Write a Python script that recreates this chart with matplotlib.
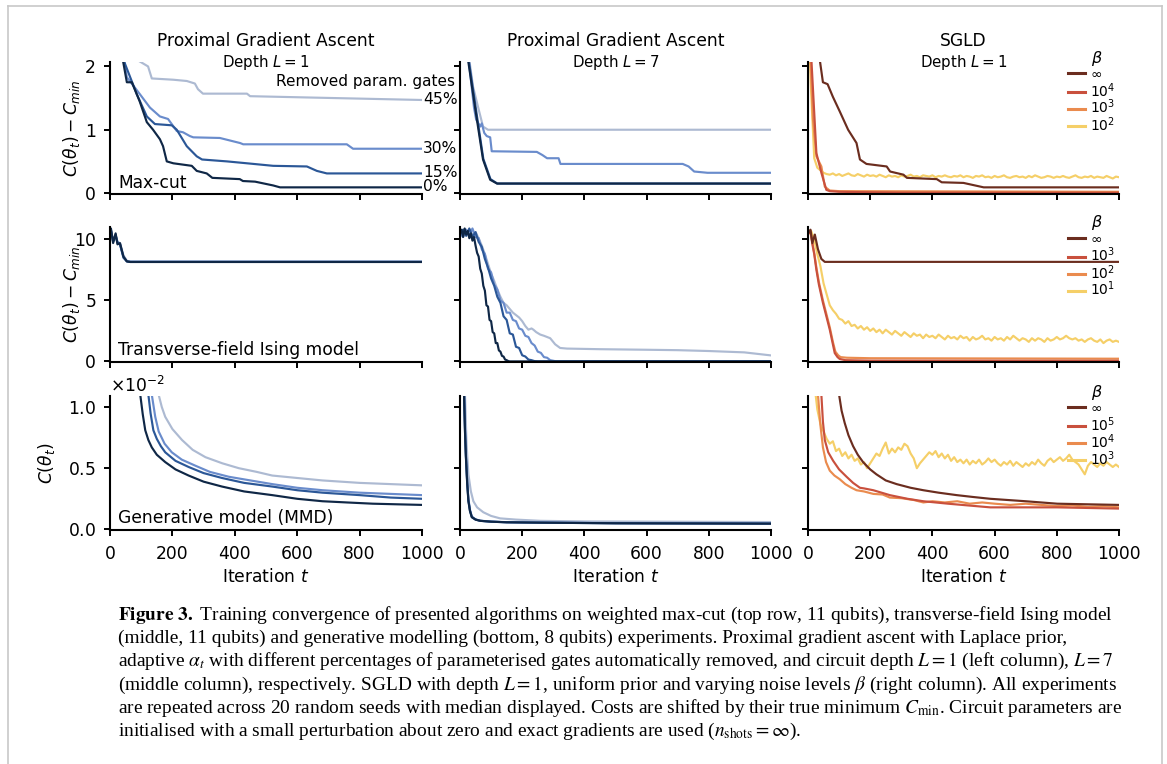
import numpy as np
import matplotlib
matplotlib.use("Agg")
import matplotlib.pyplot as plt
from matplotlib.lines import Line2D
from matplotlib.ticker import MultipleLocator, ScalarFormatter

W, H = 1167, 764

# ---------------- data ----------------
iters_ticks = [0, 200, 400, 600, 800, 1000]
pct_labels = ["0%", "15%", "30%", "45%"]
blues = ["#0f2746", "#2b5797", "#6a8ccc", "#adbad2"]
beta_colors = ["#6b2d1f", "#c9503d", "#ea8b4e", "#f5cf68"]

# Row 1: Max-cut, PGA depth 1
mc1_t = [
    [0, 20, 42, 54, 70, 95, 118, 138, 160, 170, 182, 203, 262, 278, 310, 328, 416, 426, 465, 523, 545, 1000],
    [0, 25, 45, 86, 118, 144, 198, 214, 246, 278, 295, 375, 439, 523, 631, 663, 695, 1000],
    [0, 25, 45, 54, 96, 128, 160, 186, 214, 234, 256, 267, 352, 417, 427, 759, 779, 1000],
    [0, 40, 88, 122, 134, 203, 246, 272, 282, 298, 439, 449, 631, 1000],
]
mc1_v = [
    [6.0, 3.0, 2.08, 1.75, 1.75, 1.45, 1.12, 1.0, 0.85, 0.74, 0.5, 0.47, 0.43, 0.35, 0.31, 0.24, 0.22, 0.19, 0.18, 0.12, 0.09, 0.09],
    [6.0, 3.0, 2.08, 1.56, 1.21, 1.09, 1.07, 1.0, 0.74, 0.58, 0.53, 0.5, 0.47, 0.43, 0.42, 0.35, 0.31, 0.31],
    [6.0, 3.0, 2.1, 1.83, 1.56, 1.35, 1.21, 1.17, 0.98, 0.96, 0.90, 0.88, 0.87, 0.79, 0.77, 0.77, 0.70, 0.70],
    [6.0, 3.5, 2.1, 2.0, 1.81, 1.79, 1.77, 1.73, 1.64, 1.57, 1.57, 1.53, 1.51, 1.47],
]
pct_label_y = [0.11, 0.33, 0.71, 1.48]

# Row 1: Max-cut, PGA depth 7
mc7_t = [
    [0, 15, 26, 50, 74, 97, 119, 1000],
    [0, 16, 28, 52, 75, 98, 120, 1000],
    [0, 15, 28, 45, 52, 65, 70, 78, 86, 97, 102, 247, 265, 280, 317, 323, 716, 735, 753, 796, 1000],
    [0, 15, 30, 42, 58, 74, 90, 1000],
]
mc7_v = [
    [6.0, 3.2, 2.1, 1.3, 0.53, 0.21, 0.15, 0.15],
    [6.0, 3.2, 2.1, 1.3, 0.54, 0.22, 0.15, 0.15],
    [6.0, 3.3, 2.1, 1.35, 1.16, 1.05, 1.1, 0.95, 0.9, 0.88, 0.66, 0.65, 0.6, 0.55, 0.55, 0.46, 0.46, 0.42, 0.34, 0.32, 0.32],
    [6.0, 3.4, 2.1, 1.68, 1.36, 1.05, 1.0, 1.0],
]

# Row 1: Max-cut, SGLD
mcs_labels = [r"$\infty$", r"$10^4$", r"$10^3$", r"$10^2$"]
mcs_inf_t = [0, 20, 38, 48, 63, 80, 102, 129, 156, 167, 188, 253, 264, 307, 318, 414, 430, 500, 565, 1000]
mcs_inf_v = [6, 3.2, 2.1, 1.75, 1.72, 1.52, 1.29, 1.0, 0.79, 0.53, 0.46, 0.42, 0.34, 0.29, 0.24, 0.22, 0.17, 0.16, 0.09, 0.09]
mcs_b4_t = [0, 11, 27, 43, 59, 70, 100, 200, 300, 1000]
mcs_b4_v = [6, 2.1, 0.63, 0.32, 0.05, 0.03, 0.02, 0.012, 0.006, 0.005]
mcs_b3_t = [0, 8, 16, 27, 43, 54, 70, 100, 1000]
mcs_b3_v = [6, 2.1, 1.16, 0.58, 0.42, 0.1, 0.04, 0.03, 0.02]
mcs_b2_v = [3.0, 1.6, 0.55, 0.40, 0.36, 0.32, 0.30, 0.29, 0.31, 0.28, 0.30, 0.27, 0.29, 0.31, 0.28, 0.27,
            0.30, 0.28, 0.26, 0.29, 0.27, 0.28, 0.26, 0.29, 0.27, 0.25, 0.28, 0.26, 0.27, 0.25, 0.28, 0.26,
            0.27, 0.29, 0.26, 0.27, 0.25, 0.28, 0.27, 0.26, 0.28, 0.25, 0.27, 0.26, 0.28, 0.26, 0.25, 0.27,
            0.26, 0.28, 0.25, 0.27, 0.26, 0.24, 0.27, 0.26, 0.28, 0.25, 0.26, 0.24, 0.27, 0.25, 0.26, 0.28,
            0.25, 0.24, 0.26, 0.27, 0.25, 0.26, 0.24, 0.27, 0.25, 0.28, 0.26, 0.24, 0.25, 0.27, 0.26, 0.24,
            0.26, 0.25, 0.27, 0.25, 0.24, 0.26, 0.28, 0.25, 0.24, 0.26, 0.25, 0.27, 0.24, 0.26, 0.25, 0.24,
            0.27, 0.25, 0.23, 0.26, 0.25]

# Row 2: TFIM, PGA depth 1
tf1_t = [0, 3, 10, 18, 24, 32, 43, 54, 65, 1000]
tf1_v = [
    [10.3, 10.9, 9.7, 10.5, 9.6, 9.7, 8.6, 8.2, 8.15, 8.15],
    [10.4, 10.8, 9.8, 10.4, 9.7, 9.6, 8.5, 8.2, 8.16, 8.16],
    [10.5, 10.7, 9.9, 10.3, 9.8, 9.6, 8.6, 8.2, 8.17, 8.17],
    [10.4, 10.6, 10.0, 10.2, 9.8, 9.7, 8.7, 8.25, 8.18, 8.18],
]

# Row 2: TFIM, PGA depth 7
tf7_t = [
    [0, 5, 10, 15, 20, 25, 30, 35, 40, 45, 50, 55, 60, 65, 70, 75, 80, 85, 90, 95, 100, 105, 110, 115, 120,
     125, 130, 135, 140, 145, 150, 155, 160, 1000],
    [0, 10, 20, 30, 40, 50, 60, 70, 80, 90, 100, 110, 120, 130, 140, 150, 160, 170, 180, 190, 200, 210, 220,
     230, 240, 250, 1000],
    [0, 10, 20, 30, 40, 50, 60, 70, 80, 90, 100, 110, 120, 130, 140, 150, 160, 170, 180, 190, 200, 210, 220,
     230, 240, 250, 260, 270, 280, 290, 300, 310, 1000],
    [0, 10, 20, 30, 40, 50, 60, 70, 80, 90, 100, 110, 120, 130, 140, 150, 160, 170, 180, 190, 200, 210, 220,
     230, 236, 245, 258, 270, 290, 306, 322, 344, 450, 581, 700, 800, 914, 1000],
]
tf7_v = [
    [10.5, 10.8, 10.2, 10.9, 10.4, 10.7, 10.1, 10.5, 9.9, 10.2, 9.5, 8.9, 8.6, 7.6, 7.2, 6.2, 5.8, 4.6, 4.5,
     3.4, 3.3, 2.4, 2.3, 1.5, 1.5, 0.9, 0.8, 0.45, 0.4, 0.15, 0.1, 0.03, 0.0, 0.0],
    [10.4, 10.8, 10.3, 10.9, 10.2, 10.6, 9.8, 9.4, 8.4, 7.7, 6.8, 6.2, 5.3, 4.8, 3.7, 3.4, 2.3, 2.2, 1.2,
     1.1, 0.5, 0.4, 0.15, 0.1, 0.02, 0.0, 0.0],
    [10.5, 10.2, 10.8, 10.3, 10.9, 10.2, 10.1, 9.2, 8.8, 7.6, 7.3, 6.3, 5.9, 5.0, 4.8, 4.0, 4.0, 3.4, 3.3,
     2.7, 2.6, 2.1, 2.0, 1.5, 1.3, 0.8, 0.7, 0.35, 0.3, 0.1, 0.05, 0.0, 0.0],
    [10.4, 10.7, 10.3, 10.8, 10.4, 10.6, 10.1, 9.5, 8.8, 8.0, 7.2, 6.6, 5.9, 5.3, 4.8, 4.6, 4.3, 4.0, 3.8,
     3.6, 3.3, 2.9, 2.6, 2.7, 2.6, 2.4, 2.2, 2.1, 1.9, 1.4, 1.1, 1.05, 1.0, 0.96, 0.92, 0.85, 0.74, 0.49],
]

# Row 2: TFIM, SGLD
tfs_labels = [r"$\infty$", r"$10^3$", r"$10^2$", r"$10^1$"]
tfs_inf_t = [0, 8, 14, 22, 32, 43, 54, 1000]
tfs_inf_v = [10.5, 10.8, 9.7, 10.4, 9.2, 8.4, 8.16, 8.16]
tfs_b3_t = [0, 8, 14, 20, 27, 35, 48, 60, 70, 80, 86, 95, 102, 120, 200, 1000]
tfs_b3_v = [10.5, 10.6, 9.6, 8.8, 7.5, 6.3, 4.8, 3.6, 2.6, 1.4, 0.68, 0.35, 0.2, 0.1, 0.06, 0.05]
tfs_b2_t = [0, 8, 14, 20, 27, 35, 48, 60, 70, 80, 88, 97, 105, 125, 200, 1000]
tfs_b2_v = [10.4, 10.7, 9.8, 8.9, 7.7, 6.5, 5.0, 3.8, 2.8, 1.6, 0.8, 0.5, 0.35, 0.3, 0.26, 0.22]
tfs_b1_v = [10.5, 10.7, 10.0, 8.8, 7.8, 6.4, 5.5, 4.6, 4.2, 3.9, 3.5, 3.4, 3.1, 3.3, 2.9, 3.0, 2.7, 2.9,
            2.6, 2.8, 2.5, 2.7, 2.4, 2.6, 2.3, 2.6, 2.4, 2.2, 2.5, 2.3, 2.1, 2.4, 2.2, 2.0, 2.3, 2.1, 2.2,
            1.9, 2.2, 2.0, 2.1, 1.9, 2.2, 2.0, 1.8, 2.1, 1.9, 2.0, 1.8, 2.1, 1.9, 2.0, 1.7, 2.0, 1.8, 1.9,
            2.1, 1.8, 1.9, 1.7, 2.0, 1.8, 1.9, 1.7, 2.0, 1.8, 2.1, 1.9, 1.7, 1.9, 1.8, 1.6, 1.9, 1.7, 1.9,
            1.8, 1.6, 1.9, 1.7, 1.8, 2.0, 1.8, 1.9, 2.1, 1.9, 1.8, 1.9, 1.7, 1.8, 1.6, 1.8, 1.9, 1.7, 1.6,
            1.8, 1.5, 1.7, 1.8, 1.6, 1.7, 1.6]

# Row 3: generative model (values in units of 1e-2)
SCALE = 1e-2
gen1_t = [
    [0, 60, 80, 97, 105, 113, 123, 134, 150, 177, 210, 252, 300, 359, 430, 520, 600, 681, 760, 842, 920, 1000],
    [0, 70, 100, 123, 130, 139, 150, 163, 177, 210, 252, 300, 359, 430, 520, 600, 681, 800, 900, 1000],
    [0, 80, 110, 134, 145, 156, 175, 198, 230, 274, 320, 381, 450, 520, 600, 681, 800, 900, 1000],
    [0, 100, 130, 156, 166, 177, 200, 231, 265, 306, 360, 413, 470, 520, 600, 681, 800, 900, 1000],
]
gen1_v = [
    [5.0, 2.2, 1.5, 1.10, 0.94, 0.81, 0.73, 0.67, 0.61, 0.55, 0.49, 0.44, 0.39, 0.35, 0.31, 0.28, 0.25, 0.23,
     0.22, 0.21, 0.205, 0.20],
    [5.0, 2.2, 1.5, 1.10, 0.95, 0.81, 0.74, 0.68, 0.63, 0.56, 0.51, 0.46, 0.42, 0.38, 0.35, 0.32, 0.30, 0.28,
     0.26, 0.25],
    [5.0, 2.2, 1.5, 1.10, 0.92, 0.80, 0.70, 0.63, 0.57, 0.52, 0.47, 0.43, 0.40, 0.37, 0.34, 0.32, 0.30, 0.29,
     0.28],
    [5.0, 2.2, 1.5, 1.10, 1.0, 0.92, 0.82, 0.73, 0.65, 0.59, 0.54, 0.50, 0.47, 0.44, 0.42, 0.40, 0.38, 0.37,
     0.36],
]
gen7_t = [
    [0, 8, 13, 16, 19, 23, 27, 32, 38, 50, 65, 100, 150, 258, 500, 1000],
    [0, 8, 13, 16, 19, 23, 27, 32, 38, 50, 65, 100, 150, 258, 500, 1000],
    [0, 8, 13, 16, 19, 23, 27, 32, 38, 50, 65, 100, 150, 258, 500, 1000],
    [0, 10, 16, 21, 27, 35, 43, 55, 75, 100, 129, 180, 258, 400, 1000],
]
gen7_v = [
    [6.0, 2.0, 1.1, 0.8, 0.59, 0.38, 0.23, 0.15, 0.10, 0.08, 0.07, 0.063, 0.058, 0.055, 0.05, 0.047],
    [6.0, 2.0, 1.12, 0.82, 0.6, 0.39, 0.24, 0.155, 0.10, 0.08, 0.07, 0.063, 0.058, 0.055, 0.05, 0.047],
    [6.0, 2.0, 1.14, 0.84, 0.61, 0.4, 0.25, 0.16, 0.105, 0.082, 0.071, 0.064, 0.059, 0.056, 0.051, 0.048],
    [6.0, 2.0, 1.1, 0.7, 0.45, 0.31, 0.23, 0.18, 0.14, 0.11, 0.09, 0.08, 0.07, 0.065, 0.06],
]
gens_labels = [r"$\infty$", r"$10^5$", r"$10^4$", r"$10^3$"]
gens_inf_t = [0, 60, 100, 108, 118, 130, 145, 160, 177, 200, 220, 250, 285, 330, 371, 420, 478, 530, 586, 700, 801, 900, 1000]
gens_inf_v = [6.0, 2.2, 1.10, 0.97, 0.87, 0.77, 0.68, 0.61, 0.55, 0.49, 0.45, 0.40, 0.37, 0.34, 0.32, 0.30, 0.28,
              0.265, 0.25, 0.23, 0.21, 0.205, 0.20]
gens_b5_t = [0, 30, 43, 48, 54, 65, 81, 100, 124, 145, 167, 180, 210, 263, 320, 371, 450, 586, 700, 801, 1000]
gens_b5_v = [6.0, 2.0, 1.10, 0.88, 0.73, 0.63, 0.56, 0.49, 0.43, 0.38, 0.34, 0.335, 0.32, 0.28, 0.25, 0.23, 0.21,
             0.18, 0.18, 0.18, 0.17]
gens_b4_t = [0, 20, 32, 40, 48, 58, 70, 85, 102, 120, 140, 156, 180, 210, 240, 263, 300, 340, 371, 400, 440, 480,
             520, 560, 600, 650, 700, 750, 800, 850, 900, 950, 1000]
gens_b4_v = [6.0, 2.0, 1.10, 0.85, 0.67, 0.55, 0.48, 0.44, 0.41, 0.37, 0.34, 0.32, 0.31, 0.29, 0.285, 0.26, 0.255,
             0.24, 0.22, 0.23, 0.22, 0.23, 0.21, 0.22, 0.21, 0.20, 0.21, 0.20, 0.19, 0.195, 0.185, 0.19, 0.18]
gens_b3_v = [6.0, 2.5, 1.2, 0.98, 0.86, 0.80, 0.74, 0.70, 0.72, 0.64, 0.66, 0.60, 0.63, 0.58, 0.61, 0.56, 0.58,
             0.53, 0.55, 0.50, 0.54, 0.58, 0.62, 0.60, 0.66, 0.71, 0.62, 0.66, 0.63, 0.67, 0.65, 0.70, 0.68,
             0.62, 0.58, 0.50, 0.54, 0.57, 0.60, 0.63, 0.61, 0.64, 0.59, 0.62, 0.58, 0.61, 0.56, 0.59, 0.55,
             0.57, 0.54, 0.57, 0.53, 0.56, 0.54, 0.57, 0.53, 0.55, 0.58, 0.55, 0.57, 0.54, 0.52, 0.55, 0.53,
             0.56, 0.52, 0.55, 0.53, 0.51, 0.54, 0.52, 0.55, 0.53, 0.57, 0.54, 0.52, 0.56, 0.58, 0.55, 0.57,
             0.59, 0.56, 0.58, 0.61, 0.57, 0.55, 0.53, 0.49, 0.45, 0.52, 0.55, 0.53, 0.51, 0.54, 0.52, 0.55,
             0.53, 0.51, 0.53, 0.51]

col_titles = ["Proximal Gradient Ascent", "Proximal Gradient Ascent", "SGLD"]
col_sub = [r"Depth $L = 1$", r"Depth $L = 7$", r"Depth $L = 1$"]
row_notes = ["Max-cut", "Transverse-field Ising model", "Generative model (MMD)"]

caption_lines = [
    r"$\mathbf{Figure\ 3.}$ Training convergence of presented algorithms on weighted max-cut (top row, 11 qubits), transverse-field Ising model",
    r"(middle, 11 qubits) and generative modelling (bottom, 8 qubits) experiments. Proximal gradient ascent with Laplace prior,",
    r"adaptive $\alpha_t$ with different percentages of parameterised gates automatically removed, and circuit depth $L = 1$ (left column), $L = 7$",
    r"(middle column), respectively. SGLD with depth $L = 1$, uniform prior and varying noise levels $\beta$ (right column). All experiments",
    r"are repeated across 20 random seeds with median displayed. Costs are shifted by their true minimum $C_{\mathrm{min}}$. Circuit parameters are",
    r"initialised with a small perturbation about zero and exact gradients are used ($n_{\mathrm{shots}} = \infty$).",
]

# ---------------- figure ----------------
plt.rcParams["font.family"] = ["DejaVu Sans"]
fig = plt.figure(figsize=(W / 100, H / 100), dpi=100)

cols_px = [(110, 422), (460, 771), (808, 1119)]
rows_px = [(62, 194), (227, 362), (396, 530)]

def rect(l, r, t, b):
    return [l / W, 1 - b / H, (r - l) / W, (b - t) / H]

axes = [[fig.add_axes(rect(c[0], c[1], r[0], r[1])) for c in cols_px] for r in rows_px]

LW = 1.55
FS = 12.3

for i, row in enumerate(axes):
    for j, ax in enumerate(row):
        ax.set_xlim(0, 1000)
        ax.set_xticks(iters_ticks)
        for s in ["top", "right"]:
            ax.spines[s].set_visible(False)
        for s in ["left", "bottom"]:
            ax.spines[s].set_linewidth(1.5)
        ax.tick_params(axis="both", direction="out", length=4.5, width=1.4, labelsize=FS)
        ax.tick_params(axis="x", pad=6.5)
        ax.tick_params(axis="y", pad=5.5)
        if i < 2:
            ax.tick_params(axis="x", labelbottom=False)
        if j > 0:
            ax.tick_params(axis="y", labelleft=False)
        if i == 0:
            ax.set_ylim(-0.015, 2.07)
            ax.set_yticks([0, 1, 2])
        elif i == 1:
            ax.set_ylim(-0.05, 11.02)
            ax.set_yticks([0, 5, 10])
        else:
            ax.set_ylim(-0.005 * SCALE, 1.09 * SCALE)
            ax.yaxis.set_major_locator(MultipleLocator(0.5 * SCALE))
            fmt = ScalarFormatter(useMathText=True)
            fmt.set_powerlimits((0, 0))
            ax.yaxis.set_major_formatter(fmt)
            ax.yaxis.get_offset_text().set_fontsize(FS)

# PGA panels
for k in [3, 2, 1, 0]:
    axes[0][0].plot(mc1_t[k], mc1_v[k], color=blues[k], lw=LW)
    axes[0][1].plot(mc7_t[k], mc7_v[k], color=blues[k], lw=LW)
    axes[1][0].plot(tf1_t, tf1_v[k], color=blues[k], lw=LW)
    axes[1][1].plot(tf7_t[k], tf7_v[k], color=blues[k], lw=LW)
    axes[2][0].plot(gen1_t[k], np.array(gen1_v[k]) * SCALE, color=blues[k], lw=LW)
    axes[2][1].plot(gen7_t[k], np.array(gen7_v[k]) * SCALE, color=blues[k], lw=LW)

# SGLD panels
a = axes[0][2]
a.plot(np.linspace(0, 1000, len(mcs_b2_v)), mcs_b2_v, color=beta_colors[3], lw=LW)
a.plot(mcs_b3_t, mcs_b3_v, color=beta_colors[2], lw=LW)
a.plot(mcs_b4_t, mcs_b4_v, color=beta_colors[1], lw=LW)
a.plot(mcs_inf_t, mcs_inf_v, color=beta_colors[0], lw=LW)

a = axes[1][2]
a.plot(np.linspace(0, 1000, len(tfs_b1_v)), tfs_b1_v, color=beta_colors[3], lw=LW)
a.plot(tfs_b2_t, tfs_b2_v, color=beta_colors[2], lw=LW)
a.plot(tfs_b3_t, tfs_b3_v, color=beta_colors[1], lw=LW)
a.plot(tfs_inf_t, tfs_inf_v, color=beta_colors[0], lw=LW)

a = axes[2][2]
a.plot(np.linspace(0, 1000, len(gens_b3_v)), np.array(gens_b3_v) * SCALE, color=beta_colors[3], lw=LW)
a.plot(gens_b4_t, np.array(gens_b4_v) * SCALE, color=beta_colors[2], lw=LW)
a.plot(gens_b5_t, np.array(gens_b5_v) * SCALE, color=beta_colors[1], lw=LW)
a.plot(gens_inf_t, np.array(gens_inf_v) * SCALE, color=beta_colors[0], lw=LW)

# legends (drawn as keys in figure pixels)
leg_off = [11, 30, 47, 64]
for i, labels in enumerate([mcs_labels, tfs_labels, gens_labels]):
    top = rows_px[i][0]
    fig.text(1097 / W, 1 - (top - 4) / H, r"$\beta$", fontsize=11.5, ha="center", va="center")
    for k in range(4):
        y = top + leg_off[k]
        fig.add_artist(Line2D([1068 / W, 1085 / W], [1 - y / H, 1 - y / H], color=beta_colors[k],
                              lw=2.2, transform=fig.transFigure))
        fig.text(1090 / W, 1 - (y + 4.5) / H, labels[k], fontsize=10.0, ha="left", va="baseline")

# percentage labels
ax0 = axes[0][0]
for k in range(4):
    ax0.text(1003, pct_label_y[k], pct_labels[k], fontsize=11.2, ha="left", va="center", clip_on=False)
ax0.text(1106, 1.76, "Removed param. gates", fontsize=11.0, ha="right", va="center", clip_on=False)

# titles and notes
for j in range(3):
    cx = (cols_px[j][0] + cols_px[j][1]) / 2
    fig.text(cx / W, 1 - 41 / H, col_titles[j], fontsize=FS, ha="center", va="center")
    axes[0][j].text(0.5, 1.0, col_sub[j], fontsize=10.8, ha="center", va="center",
                    transform=axes[0][j].transAxes)
    fig.text(cx / W, 1 - 577 / H, r"Iteration $t$", fontsize=FS, ha="center", va="center")

note_y = [0.083, 0.089, 0.09]
for i in range(3):
    axes[i][0].text(0.026, note_y[i], row_notes[i], fontsize=FS, ha="left", va="center",
                    transform=axes[i][0].transAxes)

ylabels = [r"$C(\theta_t) - C_{min}$", r"$C(\theta_t) - C_{min}$", r"$C(\theta_t)$"]
ylabel_x = [71, 71, 46]
for i in range(3):
    cy = (rows_px[i][0] + rows_px[i][1]) / 2
    fig.text(ylabel_x[i] / W, 1 - cy / H, ylabels[i], fontsize=FS, rotation=90, ha="center", va="center")

# caption
cap_y = [615, 638, 661, 685, 708, 731]
for y, line in zip(cap_y, caption_lines):
    fig.text(118 / W, 1 - y / H, line, fontsize=13.95, family="Liberation Serif",
             math_fontfamily="stix", ha="left", va="center")

# page frame
fc = "#c8c8c8"
fig.add_artist(Line2D([8 / W, 8 / W], [0, 1 - 6 / H], color=fc, lw=1.2, transform=fig.transFigure))
fig.add_artist(Line2D([8 / W, 1162 / W], [1 - 6 / H, 1 - 6 / H], color=fc, lw=1.2, transform=fig.transFigure))
fig.add_artist(Line2D([1162 / W, 1162 / W], [0, 1 - 6 / H], color=fc, lw=1.2, transform=fig.transFigure))

fig.savefig("out.png", dpi=100)
